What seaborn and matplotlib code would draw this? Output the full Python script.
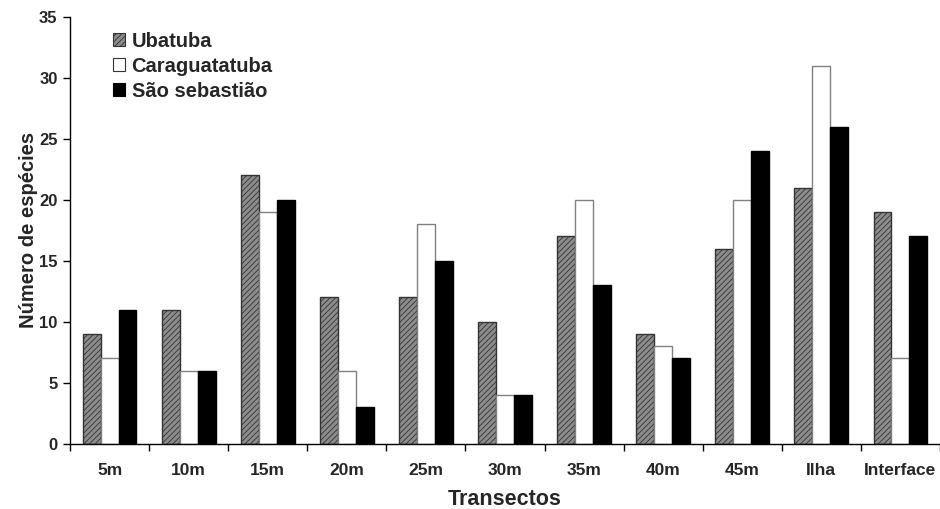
import numpy as np
import pandas as pd
import matplotlib
matplotlib.use("Agg")
import matplotlib.pyplot as plt
import seaborn as sns
from matplotlib.patches import Patch

categories = ["5m", "10m", "15m", "20m", "25m", "30m", "35m", "40m", "45m", "Ilha", "Interface"]
ubatuba = [9, 11, 22, 12, 12, 10, 17, 9, 16, 21, 19]
caraguatatuba = [7, 6, 19, 6, 18, 4, 20, 8, 20, 31, 7]
sao_sebastiao = [11, 6, 20, 3, 15, 4, 13, 7, 24, 26, 17]
series_names = ["Ubatuba", "Caraguatatuba", "São sebastião"]

rows = []
for name, vals in zip(series_names, [ubatuba, caraguatatuba, sao_sebastiao]):
    for c, v in zip(categories, vals):
        rows.append({"Transecto": c, "Valor": v, "Local": name})
df = pd.DataFrame(rows)

sns.set_style("white")
plt.rcParams["font.family"] = ["Liberation Sans", "DejaVu Sans"]
plt.rcParams["font.weight"] = "bold"
plt.rcParams["hatch.linewidth"] = 0.6

fig = plt.figure(figsize=(9.4, 5.09), dpi=100)
ax = fig.add_axes([0.0745, 0.128, 0.9255, 0.839])

face = ["#8c8c8c", "#ffffff", "#000000"]
edges = ["#333333", "#808080", "#000000"]
sns.barplot(data=df, x="Transecto", y="Valor", hue="Local", order=categories,
            hue_order=series_names, palette=face, width=0.68, ax=ax,
            saturation=1, legend=False, errorbar=None)

for i, cont in enumerate(ax.containers):
    for p in cont.patches:
        p.set_facecolor(face[i])
        p.set_edgecolor(edges[i])
        p.set_linewidth(1.0)
        if i == 0:
            p.set_hatch("//////")

ax.set_ylim(0, 35)
ax.set_yticks(np.arange(0, 36, 5))
ax.set_xlim(-0.5, len(categories) - 0.5)
ax.set_xticks(np.arange(len(categories)))
ax.set_xticklabels(categories, fontsize=12.5, fontweight="bold")
ax.set_xticks(np.arange(-0.5, len(categories), 1.0), minor=True)
ax.tick_params(axis="x", which="major", length=0, pad=14)
ax.tick_params(axis="x", which="minor", length=5, width=1, direction="out", color="black", bottom=True)
ax.tick_params(axis="y", length=5, width=1, direction="out", color="black", left=True, labelsize=12, pad=4)
for lbl in ax.get_yticklabels():
    lbl.set_fontweight("bold")

for s in ["top", "right"]:
    ax.spines[s].set_visible(False)
for s in ["left", "bottom"]:
    ax.spines[s].set_color("black")
    ax.spines[s].set_linewidth(1.0)

ax.set_xlabel("Transectos", fontsize=15.5, fontweight="bold", labelpad=8)
ax.set_ylabel("Número de espécies", fontsize=14.5, fontweight="bold", labelpad=1)

leg_handles = [Patch(facecolor=face[0], edgecolor="#333333", hatch="//////", linewidth=0.8),
               Patch(facecolor=face[1], edgecolor="#333333", linewidth=0.8),
               Patch(facecolor=face[2], edgecolor="#000000", linewidth=0.8)]
ax.legend(leg_handles, series_names, loc="upper left", bbox_to_anchor=(0.029, 1.008),
          frameon=False, handlelength=0.6, handleheight=0.6, handletextpad=0.3,
          labelspacing=0.3, prop={"size": 14.5, "weight": "bold"})

fig.savefig("out.png", dpi=100)
